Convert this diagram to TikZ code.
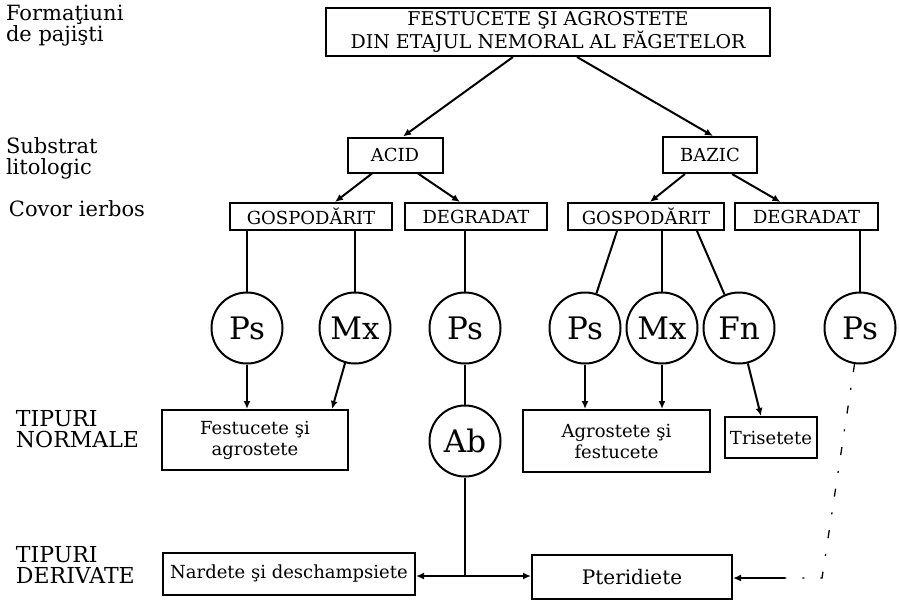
\documentclass[tikz,border=0pt]{standalone}
\usepackage{fontspec}
\setmainfont{DejaVu Serif}
\usetikzlibrary{arrows.meta}

\begin{document}
\begin{tikzpicture}[x=1pt,y=-1pt,line width=2pt,>={Latex[length=8pt,width=7pt]}]
		 \tikzstyle{box}=[draw,rectangle,inner sep=0pt,font=\fontsize{18}{21}\selectfont,align=center]
		 \tikzstyle{round}=[draw,circle,minimum size=71pt,inner sep=0pt,font=\fontsize{31}{31}\selectfont]
		 \tikzstyle{side}=[anchor=north west,inner sep=0pt,align=left,font=\fontsize{21}{21}\selectfont]
		 \tikzstyle{faint}=[line width=1.3pt,dash pattern=on 8pt off 16pt on 2pt off 16pt]

		  \useasboundingbox (0,0) rectangle (899,602);

		  \node[side]   (formatiuni) at (5,4)     {Formaţiuni\\de pajişti};
		  \node[side]   (substrat)   at (5,137)   {Substrat\\litologic};
		  \node[side]   (covor)      at (8,200)   {Covor ierbos};
		  \node[side,font=\fontsize{22}{21}\selectfont] (normale)  at (15,409)  {TIPURI\\NORMALE};
		  \node[side,font=\fontsize{22}{21}\selectfont] (derivate) at (15,545)  {TIPURI\\DERIVATE};

		  \node[box,minimum width=444pt,minimum height=48pt,font=\fontsize{19}{16}\selectfont]
		                (top)   at (548,32)   {FESTUCETE ŞI AGROSTETE\\DIN ETAJUL NEMORAL AL FĂGETELOR};
		  \node[box,minimum width=95pt,minimum height=35pt]   (acid)  at (395,155)  {ACID};
		  \node[box,minimum width=94pt,minimum height=36pt]   (bazic) at (710,155)  {BAZIC};

		  \node[box,minimum width=162pt,minimum height=27pt]  (gospA) at (311,216.5) {GOSPODĂRIT};
		  \node[box,minimum width=142pt,minimum height=27pt]  (degA)  at (476,216.5) {DEGRADAT};
		  \node[box,minimum width=156pt,minimum height=27pt]  (gospB) at (646,216.5) {GOSPODĂRIT};
		  \node[box,minimum width=143pt,minimum height=27pt]  (degB)  at (806.5,216.5) {DEGRADAT};

		  \node[round]  (ps1)   at (247,328)  {Ps};
		  \node[round]  (mx1)   at (355,328)  {Mx};
		  \node[round]  (ps2)   at (465,328)  {Ps};
		  \node[round]  (ps3)   at (585,328)  {Ps};
		  \node[round]  (mx2)   at (662,328)  {Mx};
		  \node[round]  (fn)    at (739,328)  {Fn};
		  \node[round]  (ps4)   at (860,328)  {Ps};
		  \node[round]  (ab)    at (465,441)  {Ab};

		  \node[box,minimum width=186pt,minimum height=60pt]  (festA) at (255,440)   {Festucete şi\\agrostete};
		  \node[box,minimum width=187pt,minimum height=62pt]  (agroB) at (616.5,441) {Agrostete şi\\festucete};
		  \node[box,minimum width=92pt,minimum height=41pt]   (tris)  at (771,437.5) {Trisetete};
		  \node[box,minimum width=252pt,minimum height=42pt]  (nard)  at (289,574)   {Nardete şi deschampsiete};
		  \node[box,minimum width=200pt,minimum height=44pt,font=\fontsize{20}{21}\selectfont]
		                (pter)  at (632,577)   {Pteridiete};

		  \coordinate (j) at (465,576);
		  \coordinate (k) at (822,578);
		  \coordinate (m) at (785,578);

		  \draw[->] ([xshift=-35pt]top.south) -- ([xshift=8pt]acid.north);
		  \draw[->] ([xshift=29pt]top.south) -- ([xshift=3pt]bazic.north);
		  \draw[->] ([xshift=-23pt]acid.south) -- ([xshift=24pt]gospA.north);
		  \draw[->] ([xshift=23pt]acid.south) -- ([xshift=-16pt]degA.north);
		  \draw[->] ([xshift=-25pt]bazic.south) -- ([xshift=4pt]gospB.north);
		  \draw[->] ([xshift=22pt]bazic.south) -- ([xshift=-26pt]degB.north);

		  \draw (ps1 |- gospA.south) -- (ps1);
		  \draw (mx1 |- gospA.south) -- (mx1);
		  \draw (ps2 |- degA.south) -- (ps2);
		  \draw ([xshift=-29pt]gospB.south) -- (ps3);
		  \draw (mx2 |- gospB.south) -- (mx2);
		  \draw ([xshift=51pt]gospB.south) -- (fn);
		  \draw (ps4 |- degB.south) -- (ps4);

		  \draw[->] (ps1) -- (ps1 |- festA.north);
		  \draw[->] (mx1) -- ([xshift=77pt]festA.north);
		  \draw[->] (ps3) -- (ps3 |- agroB.north);
		  \draw[->] (mx2) -- (mx2 |- agroB.north);
		  \draw[->] (fn) -- ([xshift=-10pt]tris.north);
		  \draw (ps2) -- (ab);

		  \draw (ab) -- (j);
		  \draw[->] (j) -- (nard.east |- j);
		  \draw[->] (j) -- (pter.west |- j);

		  \draw[faint] (ps4) -- (k) -- (m);
		  \draw[->] (m) -- (pter.east |- m);

		\end{tikzpicture}
\end{document}
